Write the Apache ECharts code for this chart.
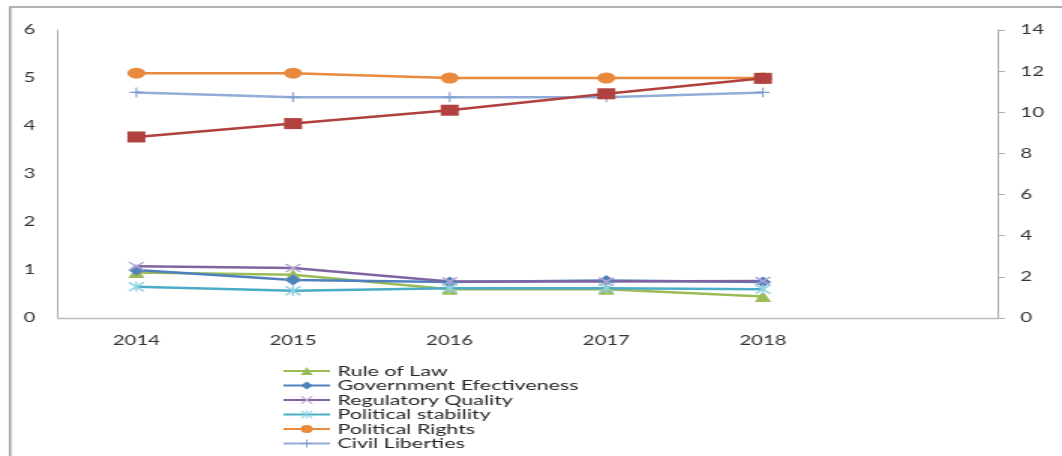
<!DOCTYPE html>
<html>
<head>
<meta charset="utf-8">
<script src="https://cdn.jsdelivr.net/npm/echarts@6/dist/echarts.min.js"></script>
<style>
    body { margin: 0; background: #fff; overflow: hidden; }
    /* the source picture is stretched sideways, so the chart is too */
    #chart { width: 708px; height: 456px; transform: scaleX(1.5); transform-origin: 0 0; }
</style>
</head>
<body>
<div id="chart"></div>
<script>
var years = ['2014', '2015', '2016', '2017', '2018', ''];
var leftTicks = [0, 6, 1];
var rightTicks = [0, 14, 2];

var ruleOfLaw = [0.95, 0.9, 0.6, 0.6, 0.45];
var govEffectiveness = [1.0, 0.79, 0.75, 0.78, 0.75];
var regQuality = [1.08, 1.04, 0.76, 0.76, 0.77];
var polStability = [0.65, 0.57, 0.62, 0.62, 0.6];
var polRights = [5.1, 5.1, 5.0, 5.0, 5.0];
var civilLiberties = [4.7, 4.6, 4.6, 4.6, 4.7];
var rightSeries = [8.8, 9.45, 10.1, 10.9, 11.65];

var names = ['Rule of Law', 'Government Efectiveness', 'Regulatory Quality',
    'Political stability', 'Political Rights', 'Civil Liberties'];

var xMark = 'path://M0,1L1,0L5,4L9,0L10,1L6,5L10,9L9,10L5,6L1,10L0,9L4,5Z';
var starMark = 'path://M0,1L1,0L5,4L9,0L10,1L6,5L10,9L9,10L5,6L1,10L0,9L4,5Z M4.4,0L5.6,0L5.6,10L4.4,10Z';
var plusMark = 'path://M4.4,0L5.6,0L5.6,4.4L10,4.4L10,5.6L5.6,5.6L5.6,10L4.4,10L4.4,5.6L0,5.6L0,4.4L4.4,4.4Z';

var font = 'Lato';

function line(name, data, color, markColor, symbol, size, axis) {
    return {
        name: name,
        type: 'line',
        yAxisIndex: axis || 0,
        data: data,
        symbol: symbol,
        symbolSize: size,
        showSymbol: true,
        lineStyle: { color: color, width: 2.5 },
        itemStyle: { color: markColor },
        emphasis: { disabled: true },
        animation: false
    };
}

var chart = echarts.init(document.getElementById('chart'));

var option = {
    textStyle: { fontFamily: font },
    graphic: [{
        type: 'rect',
        shape: { x: 6.7, y: 7, width: 760, height: 500 },
        style: { fill: 'none', stroke: '#999', lineWidth: 1.5 },
        silent: true
    }],
    legend: {
        data: names,
        orient: 'vertical',
        left: 188,
        top: 364,
        height: 92,
        padding: 0,
        itemWidth: 31,
        itemHeight: 10,
        itemGap: 0.5,
        textStyle: { fontFamily: font, fontSize: 14.3, color: '#262626', lineHeight: 14 }
    },
    grid: { left: 38.7, right: 42.7, top: 30, bottom: 138 },
    xAxis: {
        type: 'category',
        data: years,
        boundaryGap: true,
        axisLine: { lineStyle: { color: '#bbb', width: 1.3 } },
        axisTick: { show: false },
        axisLabel: { fontFamily: font, fontSize: 13.5, color: '#333', margin: 16, interval: 0 }
    },
    yAxis: [{
        type: 'value',
        min: leftTicks[0],
        max: leftTicks[1],
        interval: leftTicks[2],
        axisLine: { show: true, lineStyle: { color: '#aaa', width: 1 } },
        axisTick: { show: false },
        splitLine: { show: false },
        axisLabel: { fontFamily: font, fontSize: 13.5, color: '#333', margin: 15 }
    }, {
        type: 'value',
        position: 'right',
        min: rightTicks[0],
        max: rightTicks[1],
        interval: rightTicks[2],
        axisLine: { show: true, lineStyle: { color: '#aaa', width: 1 } },
        axisTick: { show: true, length: 4.5, lineStyle: { color: '#aaa' } },
        splitLine: { show: false },
        axisLabel: { fontFamily: font, fontSize: 13.5, color: '#333', margin: 15 }
    }],
    series: [
        line(names[0], ruleOfLaw, '#9BBB59', '#9BBB59', 'triangle', 11),
        line(names[1], govEffectiveness, '#4F81BD', '#4F81BD', 'diamond', [11, 11]),
        line(names[2], regQuality, '#8064A2', '#B6A5D0', xMark, [11, 9]),
        line(names[3], polStability, '#4BACC6', '#8FD0E2', starMark, [11, 10]),
        line(names[4], polRights, '#E8893C', '#E8893C', 'circle', [12, 11]),
        line(names[5], civilLiberties, '#92ACD8', '#7E9CD0', plusMark, [9, 10]),
        line('Series 7', rightSeries, '#B0413E', '#B0413E', 'rect', [12, 11], 1)
    ]
};

chart.setOption(option);
</script>
</body>
</html>
